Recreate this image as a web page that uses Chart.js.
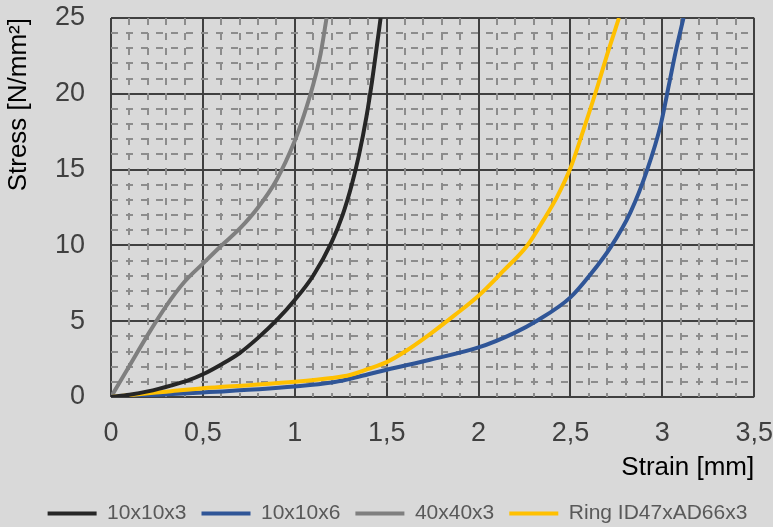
<!DOCTYPE html>
<html>
<head>
<meta charset="utf-8">
<script src="https://cdn.jsdelivr.net/npm/chart.js@4/dist/chart.umd.min.js"></script>
<style>
  body { margin: 0; background: #d9d9d9; }
  canvas { display: block; }
</style>
</head>
<body>
<canvas id="grafik" width="773" height="527"></canvas>
<script>
// data (strain mm, stress N/mm2)
const seriesNames = ["10x10x3", "10x10x6", "40x40x3", "Ring ID47xAD66x3"];
const seriesColors = ["#262626", "#2f5597", "#7f7f7f", "#ffc000"];

const strain10x10x3 = [0, 0.1, 0.2, 0.33, 0.42, 0.5, 0.6, 0.7, 0.8, 0.9, 1.0, 1.1, 1.2, 1.26, 1.31, 1.35, 1.39, 1.42, 1.445, 1.467];
const stress10x10x3 = [0, 0.15, 0.37, 0.77, 1.1, 1.5, 2.15, 2.9, 3.9, 5.05, 6.4, 8.0, 10.2, 12.0, 14.0, 16.0, 18.5, 20.8, 23.0, 25];

const strain10x10x6 = [0, 0.5, 1.0, 1.2, 1.3, 1.4, 1.5, 1.736, 2.0, 2.19, 2.318, 2.5, 2.61, 2.718, 2.827, 2.918, 2.991, 3.036, 3.073, 3.115];
const stress10x10x6 = [0, 0.3, 0.7, 0.95, 1.2, 1.5, 1.8, 2.46, 3.27, 4.2, 5.03, 6.57, 8.1, 9.87, 12.2, 15.0, 17.95, 20.6, 22.8, 25];

const strain40x40x3 = [0, 0.1, 0.2, 0.3, 0.4, 0.5, 0.6, 0.7, 0.8, 0.9, 1.0, 1.05, 1.1, 1.14, 1.173];
const stress40x40x3 = [0, 2.05, 4.1, 6.0, 7.6, 8.8, 9.98, 11.1, 12.5, 14.3, 16.9, 18.6, 20.6, 22.6, 25];

const strainRing = [0, 0.12, 0.3, 0.5, 0.75, 1.0, 1.2, 1.3, 1.4, 1.5, 1.6, 1.736, 1.87, 2.0, 2.136, 2.264, 2.355, 2.427, 2.5, 2.573, 2.645, 2.7, 2.764];
const stressRing = [0, 0.15, 0.35, 0.57, 0.78, 1.0, 1.25, 1.45, 1.85, 2.3, 3.0, 4.15, 5.4, 6.68, 8.33, 9.98, 11.7, 13.2, 15.1, 17.7, 20.4, 22.6, 25];

const xMin = 0, xMax = 3.5, xStep = 0.5, xMinorStep = 0.1;
const yMin = 0, yMax = 25, yStep = 5, yMinorStep = 1;

const strains = [strain10x10x3, strain10x10x6, strain40x40x3, strainRing];
const stresses = [stress10x10x3, stress10x10x6, stress40x40x3, stressRing];
const drawOrder = [1, 3, 4, 2]; // kuning di atas biru

function toPoints(xs, ys) {
  return xs.map((x, i) => ({ x: x, y: ys[i] }));
}

const FONT = "'Liberation Sans', Arial, sans-serif";
const komaDesimal = v => String(v).replace(".", ",");

const datasets = seriesNames.map((nama, i) => ({
  label: nama,
  data: toPoints(strains[i], stresses[i]),
  borderColor: seriesColors[i],
  backgroundColor: seriesColors[i],
  borderWidth: 4,
  pointRadius: 0,
  showLine: true,
  cubicInterpolationMode: "monotone",
  order: drawOrder[i]
}));

const ctx = document.getElementById("grafik").getContext("2d");
new Chart(ctx, {
  type: "scatter",
  data: { datasets: datasets },
  options: {
    responsive: false,
    animation: false,
    layout: { padding: { left: 22, right: 0, top: 18, bottom: -7 } },
    plugins: {
      tooltip: { enabled: false },
      legend: {
        position: "bottom",
        labels: {
          boxWidth: 49,
          boxHeight: 4,
          padding: 15,
          color: "#595959",
          font: { family: FONT, size: 21 },
          sort: (a, b) => a.datasetIndex - b.datasetIndex,
          generateLabels: chart => Chart.defaults.plugins.legend.labels.generateLabels(chart)
            .map(item => Object.assign(item, { lineWidth: 0, fillStyle: item.strokeStyle }))
        }
      }
    },
    scales: {
      x: {
        type: "linear",
        min: xMin, max: xMax,
        ticks: { stepSize: xStep, padding: 0, color: "#404040", font: { family: FONT, size: 27 }, callback: komaDesimal },
        grid: { color: "#404040", lineWidth: 2, drawTicks: true, tickLength: 20, tickColor: "rgba(0,0,0,0)" },
        border: { display: false },
        title: { display: true, text: "Strain [mm]", align: "end", color: "#000000",
                 font: { family: FONT, size: 26 }, padding: { top: 0, bottom: 5 } },
        afterFit: s => { s.height = 91; }
      },
      y: {
        type: "linear",
        min: yMin, max: yMax,
        ticks: { stepSize: yStep, padding: 0, color: "#404040", font: { family: FONT, size: 27 } },
        grid: { color: "#404040", lineWidth: 2, drawTicks: true, tickLength: 26, tickColor: "rgba(0,0,0,0)" },
        border: { display: false },
        title: { display: true, text: "Stress [N/mm²]", align: "end", color: "#000000",
                 font: { family: FONT, size: 26 }, padding: { top: -19, bottom: 0 } },
        afterFit: s => { s.width = 89; }
      },
      xMinor: {
        type: "linear",
        position: "bottom",
        min: xMin, max: xMax,
        ticks: { display: false, stepSize: xMinorStep, autoSkip: false },
        grid: {
          drawTicks: false,
          lineWidth: 2,
          color: c => Math.round(c.tick.value / xMinorStep) % 5 === 0 ? "rgba(0,0,0,0)" : "#8c8c8c"
        },
        border: { display: false, dash: [7, 8] },
        afterFit: s => { s.height = 0; }
      },
      yMinor: {
        type: "linear",
        position: "left",
        min: yMin, max: yMax,
        ticks: { display: false, stepSize: yMinorStep, autoSkip: false },
        grid: {
          drawTicks: false,
          lineWidth: 2,
          color: c => Math.round(c.tick.value) % 5 === 0 ? "rgba(0,0,0,0)" : "#8c8c8c"
        },
        border: { display: false, dash: [7, 8] },
        afterFit: s => { s.width = 0; }
      }
    }
  }
});
</script>
</body>
</html>
